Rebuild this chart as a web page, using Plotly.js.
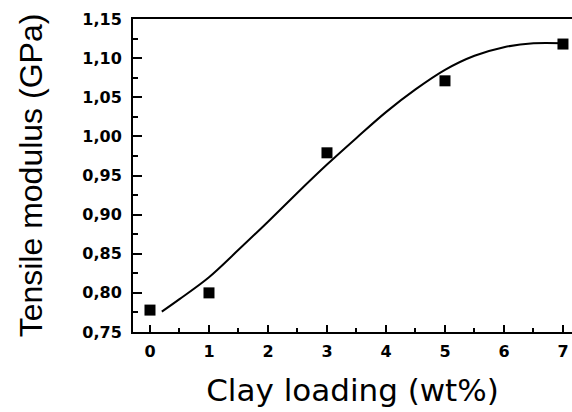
<!DOCTYPE html>
<html>
<head>
<meta charset="utf-8">
<script src="https://cdn.plot.ly/plotly-3.0.1.min.js"></script>
<style>
html,body{margin:0;padding:0;background:#fff;}
#chart{width:572px;height:412px;}
</style>
</head>
<body>
<div id="chart"></div>
<script>
// Measured data points
var clayLoading = [0, 1, 3, 5, 7];
var tensileModulus = [0.778, 0.800, 0.979, 1.071, 1.118];

// Fitted curve
var fitX = [0.2, 0.5, 1, 1.5, 2, 2.5, 3, 3.5, 4, 4.5, 5, 5.5, 6, 6.5, 7];
var fitY = [0.776, 0.792, 0.820, 0.855, 0.891, 0.928, 0.964, 0.998, 1.031, 1.060, 1.085, 1.103, 1.114, 1.119, 1.119];

var xTickVals = [0, 1, 2, 3, 4, 5, 6, 7];
var yTickVals = [0.75, 0.80, 0.85, 0.90, 0.95, 1.00, 1.05, 1.10, 1.15];

var traces = [
  {
    x: fitX, y: fitY, type: 'scatter', mode: 'lines',
    line: {color: '#000', width: 2, shape: 'spline', smoothing: 1},
    hoverinfo: 'skip', showlegend: false
  },
  {
    x: clayLoading, y: tensileModulus, type: 'scatter', mode: 'markers',
    marker: {symbol: 'square', size: 11, color: '#000'},
    showlegend: false, cliponaxis: false
  }
];

var tickFont = {family: 'DejaVu Sans', size: 16, color: '#000', weight: 'bold'};

var layout = {
  width: 572, height: 412,
  margin: {l: 133, r: 0, t: 19, b: 80},
  paper_bgcolor: '#fff', plot_bgcolor: '#fff',
  separators: ',.',
  xaxis: {
    range: [-0.288, 7.153],
    tickvals: xTickVals,
    ticks: 'inside', ticklen: 7, tickwidth: 2, tickcolor: '#000',
    minor: {dtick: 0.5, ticks: 'inside', ticklen: 4, tickwidth: 2, tickcolor: '#000'},
    showline: true, linecolor: '#000', linewidth: 2, mirror: true,
    showgrid: false, zeroline: false,
    tickfont: tickFont, ticklabelstandoff: 4,
    title: {text: 'Clay loading (wt%)', font: {family: 'DejaVu Sans', size: 31, color: '#000'}, standoff: 19}
  },
  yaxis: {
    range: [0.75, 1.15],
    tickvals: yTickVals, tickformat: '.2f',
    ticks: 'inside', ticklen: 9, tickwidth: 2, tickcolor: '#000',
    minor: {dtick: 0.025, ticks: 'inside', ticklen: 5, tickwidth: 2, tickcolor: '#000'},
    showline: true, linecolor: '#000', linewidth: 2,
    showgrid: false, zeroline: false,
    tickfont: tickFont, ticklabelstandoff: 6,
    title: {text: 'Tensile modulus (GPa)', font: {family: 'Liberation Sans', size: 32, color: '#000'}, standoff: 30}
  }
};

Plotly.newPlot('chart', traces, layout, {displayModeBar: false, staticPlot: true});
</script>
</body>
</html>
